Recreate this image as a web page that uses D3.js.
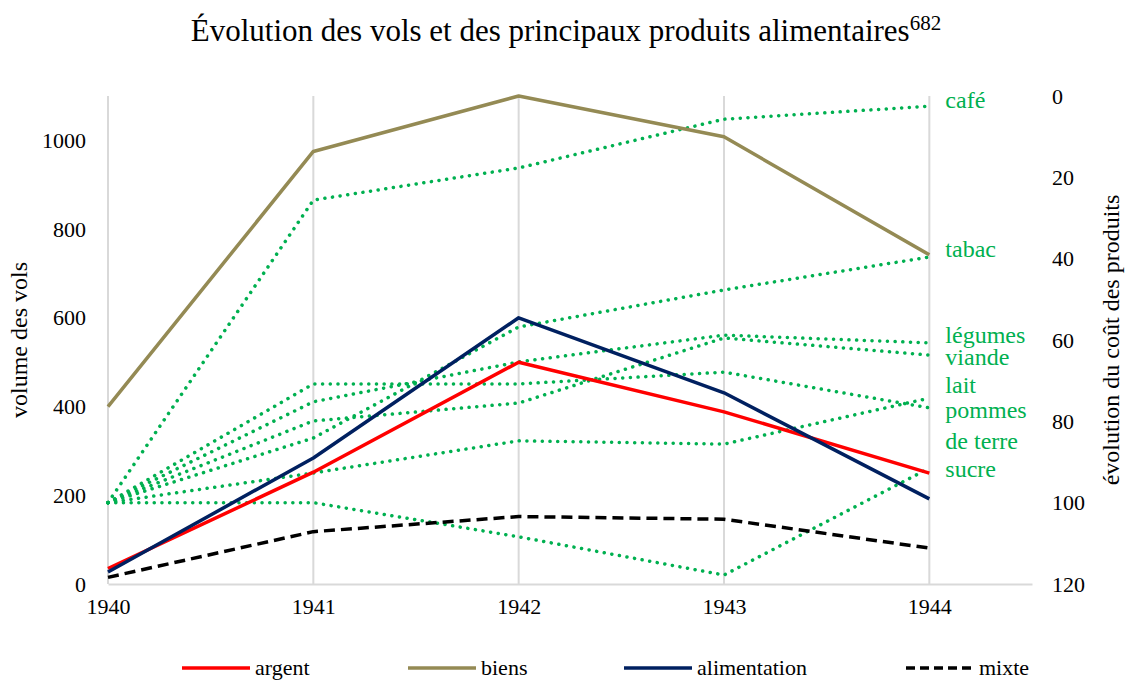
<!DOCTYPE html>
<html>
<head>
<meta charset="utf-8">
<script src="https://cdn.jsdelivr.net/npm/d3@7"></script>
<style>
  body { margin: 0; background: #fff; }
  svg text { font-family: "Liberation Serif", "DejaVu Serif", serif; }
</style>
</head>
<body>
<svg id="chart" width="1125" height="680"></svg>
<script>
// années
const years = [1940, 1941, 1942, 1943, 1944];

// volume des vols (axe gauche)
const argent = [35, 252, 500, 388, 250];
const biens = [400, 975, 1100, 1008, 742];
const alimentation = [27, 284, 600, 431, 192];
const mixte = [15, 118, 152, 146, 81];

// évolution du coût des produits (axe droit, inversé)
const cafe = [100, 25.6, 17.7, 5.7, 2.5];
const tabac = [100, 84.1, 56.8, 47.7, 39.6];
const legumes = [100, 75.2, 65.4, 58.8, 60.7];
const viande = [100, 79.9, 75.5, 59.5, 63.7];
const lait = [100, 92.7, 84.8, 85.6, 74.3];
const pommesDeTerre = [100, 70.8, 70.8, 67.9, 76.7];
const sucre = [100, 100, 108.4, 117.8, 91.5];

const leftTicks = [0, 200, 400, 600, 800, 1000];
const rightTicks = [0, 20, 40, 60, 80, 100, 120];

// étiquettes vertes à droite (position en unités de l'axe droit)
const productLabels = [
  { text: "café", v: 2.95 },
  { text: "tabac", v: 39.6 },
  { text: "légumes", v: 60.7 },
  { text: "viande", v: 66.1 },
  { text: "lait", v: 73.0 },
  { text: "pommes", v: 79.2 },
  { text: "de terre", v: 86.8 },
  { text: "sucre", v: 93.7 }
];

const svg = d3.select("#chart");
const margin = { top: 96, right: 93, bottom: 96, left: 108 };
const W = 1125, H = 680;
const serif = "'Liberation Serif', 'DejaVu Serif', serif";

// échelles
const x = d3.scaleLinear().domain([1940, 1944.5]).range([margin.left, W - margin.right]);
const yLeft = d3.scaleLinear().domain([0, 1100]).range([H - margin.bottom, margin.top]);
const yRight = d3.scaleLinear().domain([0, 120]).range([margin.top, H - margin.bottom]);

const grid = "#d9d9d9";
const green = "#00b050";

// titre
const title = svg.append("text")
  .attr("x", 566)
  .attr("y", 41)
  .attr("text-anchor", "middle")
  .style("font-family", serif)
  .style("font-size", "31px")
  .attr("fill", "#000");
title.append("tspan").text("Évolution des vols et des principaux produits alimentaires");
title.append("tspan").attr("dy", -11).style("font-size", "21px").text("682");

// grille verticale
svg.append("g")
  .selectAll("line")
  .data(years)
  .join("line")
  .attr("x1", d => x(d)).attr("x2", d => x(d))
  .attr("y1", yLeft(1100)).attr("y2", yLeft(0))
  .attr("stroke", grid)
  .attr("stroke-width", 2);

// axe x
const xAxis = svg.append("g")
  .attr("transform", `translate(0,${yLeft(0)})`)
  .call(d3.axisBottom(x).tickValues(years).tickFormat(d3.format("d")).tickSize(0).tickPadding(14));
xAxis.select(".domain").attr("stroke", grid).attr("stroke-width", 2);

// axe gauche
const yAxisL = svg.append("g")
  .attr("transform", `translate(${margin.left},0)`)
  .call(d3.axisLeft(yLeft).tickValues(leftTicks).tickFormat(d3.format("d")).tickSize(0).tickPadding(22));
yAxisL.select(".domain").remove();

// axe droit
const yAxisR = svg.append("g")
  .attr("transform", `translate(${W - margin.right},0)`)
  .call(d3.axisRight(yRight).tickValues(rightTicks).tickSize(0).tickPadding(20));
yAxisR.select(".domain").remove();

[xAxis, yAxisL, yAxisR].forEach(a => {
  a.attr("font-family", null);
  a.selectAll("text")
    .style("font-size", "22px")
    .style("font-family", serif)
    .attr("fill", "#000");
});

// titres des axes
svg.append("text")
  .attr("transform", `translate(27,${(margin.top + H - margin.bottom) / 2}) rotate(-90)`)
  .attr("text-anchor", "middle")
  .style("font-family", serif)
  .style("font-size", "24px")
  .text("volume des vols");

svg.append("text")
  .attr("transform", `translate(1119,${(margin.top + H - margin.bottom) / 2}) rotate(-90)`)
  .attr("text-anchor", "middle")
  .style("font-family", serif)
  .style("font-size", "24px")
  .text("évolution du coût des produits");

// courbes des produits (pointillés verts)
const products = [cafe, tabac, legumes, viande, lait, pommesDeTerre, sucre];
const lineRight = d3.line()
  .x((d, i) => x(years[i]))
  .y(d => yRight(d));

svg.append("g")
  .selectAll("path")
  .data(products)
  .join("path")
  .attr("d", lineRight)
  .attr("fill", "none")
  .attr("stroke", green)
  .attr("stroke-width", 3.5)
  .attr("stroke-linecap", "round")
  .attr("stroke-dasharray", "0.1 7.6");

// séries des vols
const series = [
  { name: "argent", values: argent, color: "#ff0000", dash: null },
  { name: "biens", values: biens, color: "#948a54", dash: null },
  { name: "alimentation", values: alimentation, color: "#002060", dash: null },
  { name: "mixte", values: mixte, color: "#000000", dash: "11 6" }
];

const lineLeft = d3.line()
  .x((d, i) => x(years[i]))
  .y(d => yLeft(d));

series.forEach(s => {
  svg.append("path")
    .datum(s.values)
    .attr("d", lineLeft)
    .attr("fill", "none")
    .attr("stroke", s.color)
    .attr("stroke-width", 3.5)
    .attr("stroke-linejoin", "round")
    .attr("stroke-dasharray", s.dash);
});

// étiquettes des produits
svg.append("g")
  .selectAll("text")
  .data(productLabels)
  .join("text")
  .attr("x", x(1944) + 16)
  .attr("y", d => yRight(d.v))
  .attr("fill", green)
  .style("font-family", serif)
  .style("font-size", "24px")
  .text(d => d.text);

// légende
const legendX = [182, 408, 624, 906];
const legend = svg.append("g");
series.forEach((s, i) => {
  legend.append("line")
    .attr("x1", legendX[i]).attr("x2", legendX[i] + 68)
    .attr("y1", 668).attr("y2", 668)
    .attr("stroke", s.color)
    .attr("stroke-width", 3.5)
    .attr("stroke-dasharray", s.dash ? "9 5" : null);
  legend.append("text")
    .attr("x", legendX[i] + 73)
    .attr("y", 675)
    .style("font-family", serif)
    .style("font-size", "22px")
    .text(s.name);
});
</script>
</body>
</html>
